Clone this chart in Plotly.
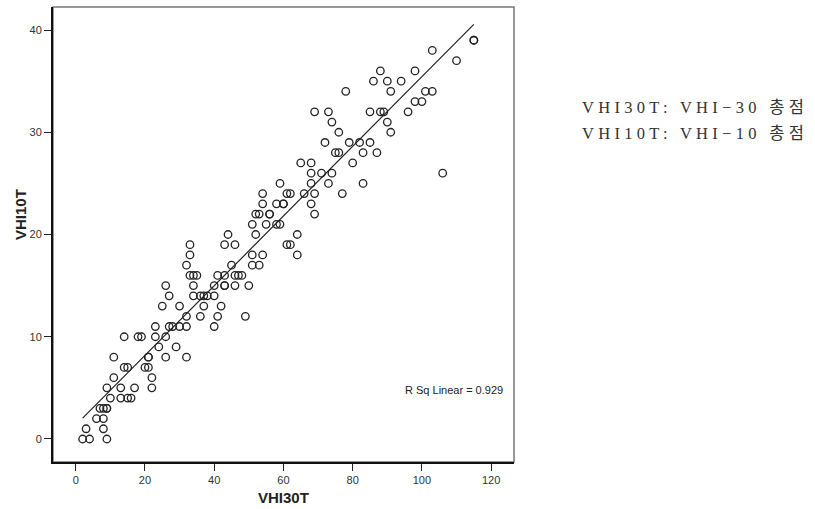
import numpy as np
import plotly.graph_objects as go

# VHI-10 total (y) grouped with the VHI-30 totals (x) observed at that y
vhi10_levels = list(range(0, 40))
vhi30_by_level = [
    [2, 4, 9],                      # 0
    [3, 8],                         # 1
    [6, 8],                         # 2
    [7, 8, 9, 9],                   # 3
    [10, 13, 15, 16],               # 4
    [9, 13, 17, 22],                # 5
    [11, 22],                       # 6
    [14, 15, 20, 21],               # 7
    [11, 21, 21, 26, 32],           # 8
    [24, 29],                       # 9
    [14, 18, 19, 23, 26],           # 10
    [23, 27, 28, 30, 32, 40],       # 11
    [32, 36, 41, 49],               # 12
    [25, 30, 37, 42],               # 13
    [27, 34, 36, 37, 38, 40],       # 14
    [26, 34, 40, 43, 43, 46, 50],   # 15
    [33, 34, 35, 41, 43, 46, 47, 48],  # 16
    [32, 45, 51, 53],               # 17
    [33, 51, 54, 64],               # 18
    [33, 43, 46, 61, 62],           # 19
    [44, 52, 64],                   # 20
    [51, 55, 58, 59],               # 21
    [52, 53, 56, 56, 69],           # 22
    [54, 58, 60, 60, 68],           # 23
    [54, 61, 62, 66, 69, 77],       # 24
    [59, 68, 73, 83],               # 25
    [68, 71, 74, 106],              # 26
    [65, 68, 80],                   # 27
    [75, 76, 83, 87],               # 28
    [72, 79, 82, 85],               # 29
    [76, 91],                       # 30
    [74, 90],                       # 31
    [69, 73, 85, 88, 89, 96],       # 32
    [98, 100],                      # 33
    [78, 91, 101, 103],             # 34
    [86, 90, 94],                   # 35
    [88, 98],                       # 36
    [110],                          # 37
    [103],                          # 38
    [115, 115],                     # 39
]

x_ticks = [0, 20, 40, 60, 80, 100, 120]
y_ticks = [0, 10, 20, 30, 40]
r_sq_label = "R Sq Linear = 0.929"
note_lines = ["VHI30T: VHI−30 총점", "VHI10T: VHI−10 총점"]

vhi30 = []
vhi10 = []
for lvl, xs in zip(vhi10_levels, vhi30_by_level):
    for xv in xs:
        vhi30.append(xv)
        vhi10.append(lvl)
vhi30 = np.array(vhi30, dtype=float)
vhi10 = np.array(vhi10, dtype=float)

slope, intercept = np.polyfit(vhi30, vhi10, 1)
fit_x = np.array([vhi30.min(), vhi30.max()])
fit_y = slope * fit_x + intercept

fig = go.Figure()
fig.add_trace(go.Scatter(
    x=vhi30, y=vhi10, mode="markers",
    marker=dict(symbol="circle-open", size=7.5, color="#222222",
                line=dict(width=1.3, color="#222222")),
    showlegend=False, hoverinfo="x+y",
))
fig.add_trace(go.Scatter(
    x=fit_x, y=fit_y, mode="lines",
    line=dict(color="#222222", width=1.2),
    showlegend=False, hoverinfo="skip",
))

axis_font = dict(family="Liberation Sans, Arial, sans-serif", size=11, color="#333333")

fig.update_layout(
    width=815, height=509,
    margin=dict(l=53, r=301, t=7, b=47),
    paper_bgcolor="white", plot_bgcolor="white",
    xaxis=dict(range=[-6.56, 126.6], tickvals=x_ticks, ticks="outside", ticklen=7,
               tickwidth=1.3, tickcolor="#222", showgrid=False, zeroline=False,
               showline=True, linecolor="#111", linewidth=2, tickfont=axis_font),
    yaxis=dict(range=[-2.25, 42.25], tickvals=y_ticks, ticks="outside", ticklen=7,
               tickwidth=1.3, tickcolor="#222", showgrid=False, zeroline=False,
               showline=True, linecolor="#111", linewidth=2, tickfont=axis_font),
    shapes=[dict(type="rect", xref="paper", yref="paper", x0=0, x1=1, y0=0, y1=1,
                 line=dict(color="#777777", width=1.5), layer="below")],
)

fig.add_annotation(text=r_sq_label, xref="paper", yref="paper", x=0.9805, y=0.158,
                   xanchor="right", yanchor="middle", showarrow=False,
                   font=dict(family="Liberation Sans, Arial, sans-serif", size=11, color="#222"))
fig.add_annotation(text="<b>VHI30T</b>", xref="paper", yref="paper", x=0.5, y=-0.077,
                   xanchor="center", yanchor="middle", showarrow=False,
                   font=dict(family="Liberation Sans, Arial, sans-serif", size=15, color="#222"))
fig.add_annotation(text="<b>VHI10T</b>", xref="paper", yref="paper", x=-0.0716, y=0.545,
                   xanchor="center", yanchor="middle", showarrow=False, textangle=-90,
                   font=dict(family="Liberation Sans, Arial, sans-serif", size=15, color="#222"))
for i, line in enumerate(note_lines):
    fig.add_annotation(
        text='<span style="letter-spacing:4.3px">' + line + '</span>',
        xref="paper", yref="paper", x=1.143, y=0.780 - i * 0.059,
        xanchor="left", yanchor="middle", showarrow=False,
        font=dict(family="Liberation Serif, Noto Sans CJK KR, serif", size=16.5, color="#333"))

fig.write_html("out.html")
